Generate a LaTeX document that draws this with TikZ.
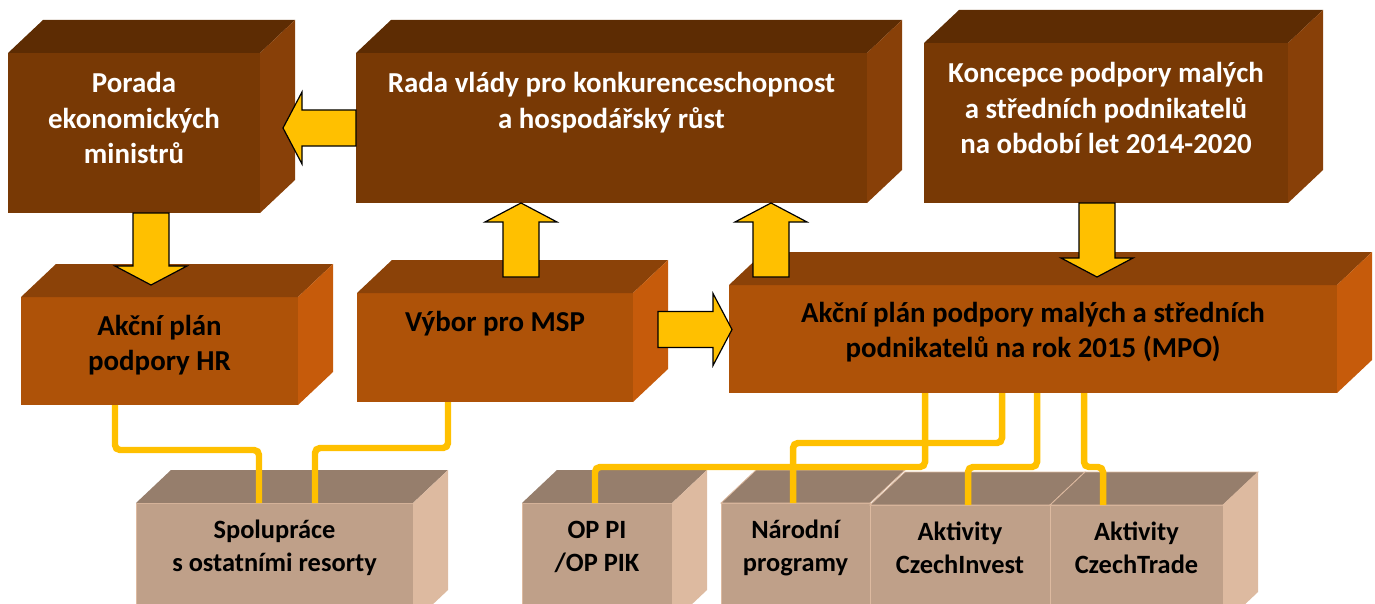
\documentclass[tikz,border=0pt]{standalone}
\usepackage{fontspec}
\setmainfont{Carlito}
\usepackage{tikz}
\usetikzlibrary{calc, positioning}
\definecolor{frontA}{RGB}{120,57,5}
\definecolor{topA}{RGB}{93,44,3}
\definecolor{sideA}{RGB}{136,64,8}
\definecolor{frontB}{RGB}{174,82,8}
\definecolor{topB}{RGB}{139,66,8}
\definecolor{sideB}{RGB}{198,91,11}
\definecolor{frontC}{RGB}{191,160,137}
\definecolor{topC}{RGB}{150,126,108}
\definecolor{sideC}{RGB}{221,186,160}
\definecolor{gold}{RGB}{255,192,0}
\tikzstyle{cube} = [rectangle, anchor=north west, inner sep=0pt, outer sep=0pt, font=\bfseries\fontsize{29}{35.5}\selectfont]
\tikzstyle{dark} = [cube, fill=frontA, text=white]
\tikzstyle{mid} = [cube, fill=frontB, text=black]
\tikzstyle{light} = [cube, fill=frontC, draw=sideC, line width=0.8, text=black, font=\bfseries\fontsize{26.5}{33.5}\selectfont]
\tikzstyle{link} = [draw=gold, line width=6.5, rounded corners=5]
\tikzstyle{blockarrow} = [draw=black, line width=1.2, fill=gold, line join=miter]
% text on the front face: width, height, first baseline, lines
\newcommand{\facetext}[4]{\parbox[t][#2bp][t]{#1bp}{\centering\rule{0pt}{#3bp}#4}}
% top and side faces of a box
\newcommand{\cubetop}[2]{\path[#2] (#1.north west) -- ++(35,-33) -- ($(#1.north east)+(35,-33)$) -- (#1.north east) -- cycle;}
\newcommand{\cubeside}[2]{\path[#2] (#1.north east) -- ++(35,-33) -- ($(#1.south east)+(35,-33)$) -- (#1.south east) -- cycle;}
% wide arrow from #1 to #2
\newcommand{\blockarrow}[2]{%
  \draw[blockarrow] let \p1=#1, \p2=#2, \p3=($(\p2)!19bp!(\p1)$) in
    ($(\p1)!18bp!90:(\p2)$) -- ($(\p3)!18bp!90:(\p2)$) -- ($(\p3)!36bp!90:(\p2)$) -- (\p2)
    -- ($(\p3)!36bp!-90:(\p2)$) -- ($(\p3)!18bp!-90:(\p2)$) -- ($(\p1)!18bp!-90:(\p2)$) -- cycle;}

\begin{document}
\begin{tikzpicture}[x=1bp, y=-1bp]
	\useasboundingbox (0,0) rectangle (1375,604);
	\clip (0,0) rectangle (1375,604);
	% top row
	\node (Porada) [dark] at (8,53) {\facetext{252}{160}{40}{Porada\\ekonomických\\ministrů}};
	\cubetop{Porada}{fill=topA} \cubeside{Porada}{fill=sideA}
	\node (Rada) [dark] at (356,53) {\facetext{511}{150}{40}{Rada vlády pro konkurenceschopnost\\a hospodářský růst}};
	\cubetop{Rada}{fill=topA} \cubeside{Rada}{fill=sideA}
	\node (Koncepce) [dark] at (924,43) {\facetext{364}{160}{40}{Koncepce podpory malých\\a středních podnikatelů\\na období let 2014-2020}};
	\cubetop{Koncepce}{fill=topA} \cubeside{Koncepce}{fill=sideA}
	% middle row
	\node (PlanHR) [mid] at (21,297) {\facetext{277}{108}{38}{Akční plán\\podpory HR}};
	\cubetop{PlanHR}{fill=topB} \cubeside{PlanHR}{fill=sideB}
	\node (Vybor) [mid] at (357,293) {\facetext{276}{109}{38}{Výbor pro MSP}};
	\cubetop{Vybor}{fill=topB} \cubeside{Vybor}{fill=sideB}
	\node (PlanMSP) [mid] at (729,285) {\facetext{608}{108}{37}{Akční plán podpory malých a středních\\podnikatelů na rok 2015 (MPO)}};
	\cubetop{PlanMSP}{fill=topB} \cubeside{PlanMSP}{fill=sideB}
	% bottom row
	\node (Spoluprace) [light] at (136,503) {\facetext{277}{120}{35.5}{Spolupráce\\s ostatními resorty}};
	\cubetop{Spoluprace}{fill=topC} \cubeside{Spoluprace}{fill=sideC}
	\node (OPPI) [light] at (522,503) {\facetext{150}{120}{35.5}{OP PI\\/OP PIK}};
	\cubetop{OPPI}{fill=topC} \cubeside{OPPI}{fill=sideC}
	\node (Narodni) [light] at (721,503) {\facetext{149}{120}{35.5}{Národní\\programy}};
	\cubetop{Narodni}{fill=topC, draw=sideC, line width=0.8}
	\node (CzechInvest) [light] at (870,505) {\facetext{180}{120}{35.5}{Aktivity\\CzechInvest}};
	\cubetop{CzechInvest}{fill=topC, draw=sideC, line width=0.8}
	\node (CzechTrade) [light] at (1050,505) {\facetext{173}{120}{35.5}{Aktivity\\CzechTrade}};
	\cubetop{CzechTrade}{fill=topC, draw=sideC, line width=0.8} \cubeside{CzechTrade}{fill=sideC}
	% links
	\draw[link] ($(PlanHR.south west)+(94,0)$) -- ++(0,45) -| ($(Spoluprace.north west)+(123,0)$);
	\draw[link] ($(Vybor.south west)+(91,0)$) -- ++(0,46) -| ($(Spoluprace.north west)+(179,0)$);
	\draw[link] ($(PlanMSP.south west)+(196,0)$) -- ++(0,74) -| ($(OPPI.north west)+(73,0)$);
	\draw[link] ($(PlanMSP.south west)+(273,0)$) -- ++(0,50) -| ($(Narodni.north west)+(72,0)$);
	\draw[link] ($(PlanMSP.south west)+(308,0)$) -- ++(0,74) -| ($(CzechInvest.north west)+(98,0)$);
	\draw[link] ($(PlanMSP.south west)+(355,0)$) -- ++(0,74) -| ($(CzechTrade.north west)+(53,0)$);
	% arrows
	\blockarrow{(Rada.west)}{($(Porada.east |- Rada.west)+(23,0)$)}
	\blockarrow{($(Porada.south)+(17,0)$)}{($(Porada.south |- PlanHR.north)+(17,-12)$)}
	\blockarrow{($(Vybor.north)+(26,-16)$)}{($(Vybor.north |- Rada.south)+(26,0)$)}
	\blockarrow{($(PlanMSP.north west)+(42,-8)$)}{($(PlanMSP.north west |- Rada.south)+(42,0)$)}
	\blockarrow{($(Vybor.east)+(25,-18)$)}{($(PlanMSP.west |- Vybor.east)+(3,-18)$)}
	\blockarrow{($(Koncepce.south)+(-9,0)$)}{($(Koncepce.south |- PlanMSP.north)+(-9,-8)$)}
\end{tikzpicture}
\end{document}
